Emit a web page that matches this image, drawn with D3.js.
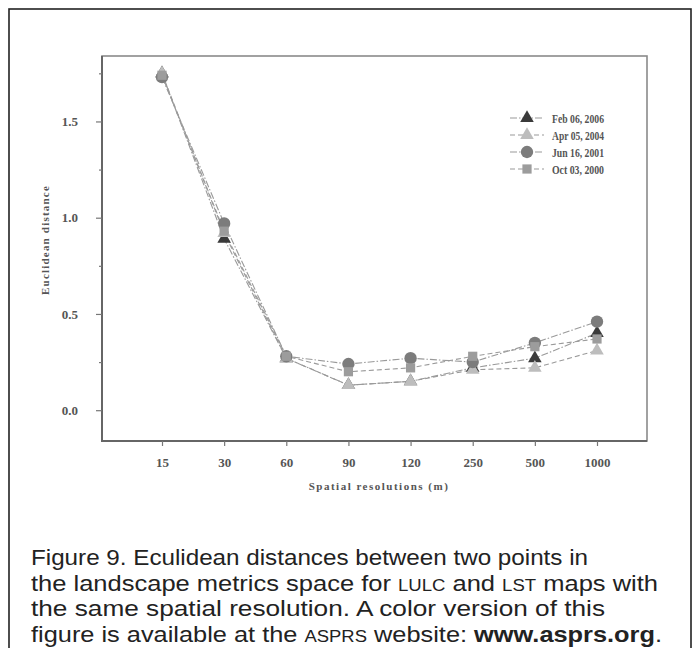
<!DOCTYPE html>
<html>
<head>
<meta charset="utf-8">
<script src="https://cdn.jsdelivr.net/npm/d3@7"></script>
<style>
  html, body { margin: 0; padding: 0; background: #fff; }
  svg { display: block; }
</style>
</head>
<body>
<svg id="fig" width="700" height="648"></svg>
<script>
// Spatial resolutions (m) on the x axis
const resolutions = ["15", "30", "60", "90", "120", "250", "500", "1000"];

// Euclidean distance for each acquisition date
const feb2006 = [1.75, 0.89, 0.27, 0.13, 0.15, 0.22, 0.27, 0.40];
const apr2004 = [1.75, 0.92, 0.27, 0.13, 0.15, 0.21, 0.22, 0.31];
const jun2001 = [1.73, 0.97, 0.28, 0.24, 0.27, 0.25, 0.35, 0.46];
const oct2000 = [1.74, 0.93, 0.28, 0.20, 0.22, 0.28, 0.33, 0.37];

const seriesNames = ["Feb 06, 2006", "Apr 05, 2004", "Jun 16, 2001", "Oct 03, 2000"];
const yTicks = [0, 0.25, 0.5, 0.75, 1.0, 1.25, 1.5, 1.75];

const series = [
  { name: seriesNames[0], values: feb2006, symbol: d3.symbolTriangle, size: 80, fill: "#3a3a3a", dash: "7,2,1.5,2" },
  { name: seriesNames[1], values: apr2004, symbol: d3.symbolTriangle, size: 80, fill: "#bdbdbd", dash: "5,3" },
  { name: seriesNames[2], values: jun2001, symbol: d3.symbolCircle, size: 120, fill: "#7c7c7c", dash: "7,2,1.5,2" },
  { name: seriesNames[3], values: oct2000, symbol: d3.symbolSquare, size: 85, fill: "#9c9c9c", dash: "5,3" }
];

const svg = d3.select("#fig");
const serif = "'Liberation Serif', 'DejaVu Serif', serif";
const isMajor = d => Math.round(d * 100) % 50 === 0;

// outer frame of the figure
svg.append("rect")
  .attr("x", 9).attr("y", 9).attr("width", 682).attr("height", 660)
  .attr("fill", "none").attr("stroke", "#222").attr("stroke-width", 1.6);

// plot box
const box = { left: 102, right: 647, top: 56, bottom: 441 };

const x = d3.scalePoint().domain(resolutions).range([162, 597]);
const y = d3.scaleLinear().domain([-0.16, 1.84]).range([box.bottom, box.top]);

svg.append("rect")
  .attr("x", box.left).attr("y", box.top)
  .attr("width", box.right - box.left).attr("height", box.bottom - box.top)
  .attr("fill", "none").attr("stroke", "#8a8a8a").attr("stroke-width", 1.6);

// left and bottom axis lines are heavier
svg.append("path")
  .attr("d", `M${box.left},${box.top}V${box.bottom}H${box.right}`)
  .attr("fill", "none").attr("stroke", "#666").attr("stroke-width", 2);

// y axis
const yAxis = d3.axisLeft(y)
  .tickValues(yTicks)
  .tickSize(0)
  .tickPadding(24)
  .tickFormat(d => isMajor(d) ? d3.format(".1f")(d) : "");
const gy = svg.append("g").attr("transform", `translate(${box.left},0)`).call(yAxis);
gy.select(".domain").remove();
gy.selectAll(".tick line").remove();
gy.selectAll(".tick").append("line")
  .attr("x1", 0)
  .attr("x2", d => isMajor(d) ? -6 : -3)
  .attr("stroke", "#777").attr("stroke-width", 1.2);
gy.selectAll(".tick text")
  .attr("font-family", serif).attr("font-size", 13).attr("font-weight", "bold")
  .attr("fill", "#555");

// x axis
const xAxis = d3.axisBottom(x).tickSize(5).tickPadding(12);
const gx = svg.append("g").attr("transform", `translate(0,${box.bottom})`).call(xAxis);
gx.select(".domain").remove();
gx.selectAll(".tick line").attr("stroke", "#777").attr("stroke-width", 1.2);
gx.selectAll(".tick text")
  .attr("font-family", serif).attr("font-size", 13).attr("font-weight", "bold")
  .attr("fill", "#555");

// axis titles
svg.append("text")
  .attr("transform", "translate(49,240) rotate(-90)")
  .attr("text-anchor", "middle")
  .attr("font-family", serif).attr("font-size", 11).attr("font-weight", "bold")
  .attr("letter-spacing", 1.2)
  .attr("fill", "#555")
  .text("Euclidean distance");

svg.append("text")
  .attr("x", 379).attr("y", 490)
  .attr("text-anchor", "middle")
  .attr("font-family", serif).attr("font-size", 11).attr("font-weight", "bold")
  .attr("letter-spacing", 1.5)
  .attr("fill", "#555")
  .text("Spatial resolutions (m)");

// series lines
const line = d3.line()
  .x((d, i) => x(resolutions[i]))
  .y(d => y(d));

series.forEach(s => {
  svg.append("path")
    .datum(s.values)
    .attr("d", line)
    .attr("fill", "none")
    .attr("stroke", "#9a9a9a")
    .attr("stroke-width", 1.1)
    .attr("stroke-dasharray", s.dash);
});

// series markers
series.forEach(s => {
  svg.append("g").selectAll("path")
    .data(s.values)
    .join("path")
    .attr("transform", (d, i) => `translate(${x(resolutions[i])},${y(d)})`)
    .attr("d", d3.symbol().type(s.symbol).size(s.size))
    .attr("fill", s.fill);
});

// legend
const legend = svg.append("g").attr("transform", "translate(510,118)");
series.forEach((s, i) => {
  const g = legend.append("g").attr("transform", `translate(0,${i * 17})`);
  g.append("line")
    .attr("x1", 0).attr("x2", 34).attr("y1", 0).attr("y2", 0)
    .attr("stroke", "#9a9a9a").attr("stroke-width", 1.1)
    .attr("stroke-dasharray", s.dash);
  g.append("path")
    .attr("transform", "translate(17,0)")
    .attr("d", d3.symbol().type(s.symbol).size(s.size))
    .attr("fill", s.fill);
  g.append("text")
    .attr("x", 42).attr("y", 4.5)
    .attr("font-family", serif).attr("font-size", 12.5).attr("font-weight", "bold")
    .attr("fill", "#555")
    .attr("textLength", 52).attr("lengthAdjust", "spacingAndGlyphs")
    .text(s.name);
});

// caption
const sans = "'Liberation Sans Narrow', 'Liberation Sans', Arial, sans-serif";
const captionLines = [
  { w: 557, parts: [["Figure 9. Eculidean distances between two points in", ""]] },
  { w: 627, parts: [["the landscape metrics space for ", ""], ["LULC", "sc"], [" and ", ""], ["LST", "sc"], [" maps with", ""]] },
  { w: 574, parts: [["the same spatial resolution. A color version of this", ""]] },
  { w: 631, parts: [["figure is available at the ", ""], ["ASPRS", "sc"], [" website: ", ""], ["www.asprs.org", "b"], [".", ""]] }
];
captionLines.forEach((ln, i) => {
  const t = svg.append("text")
    .attr("x", 31).attr("y", 565 + i * 25.7)
    .attr("font-family", sans).attr("font-size", 22)
    .attr("fill", "#222")
    .attr("textLength", ln.w).attr("lengthAdjust", "spacingAndGlyphs");
  ln.parts.forEach(p => {
    const ts = t.append("tspan").text(p[0]);
    if (p[1] === "sc") ts.attr("font-size", 16);
    if (p[1] === "b") ts.attr("font-weight", "bold");
  });
});
</script>
</body>
</html>
